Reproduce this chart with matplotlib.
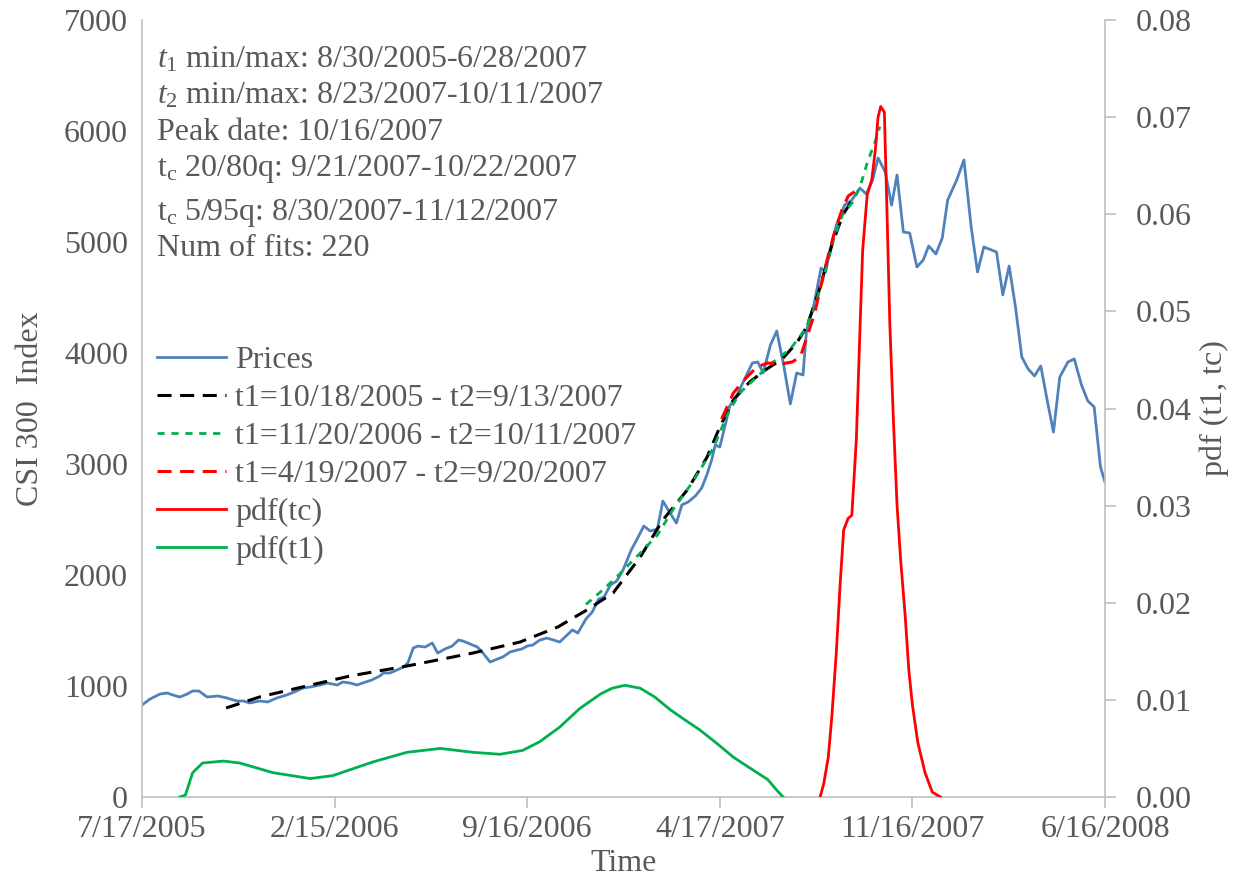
import matplotlib
matplotlib.use("Agg")
import matplotlib.pyplot as plt
import matplotlib.dates as mdates
import pandas as pd
from matplotlib.ticker import FuncFormatter, FixedLocator

plt.rcParams['font.family'] = ['Liberation Serif', 'DejaVu Serif']
plt.rcParams['mathtext.fontset'] = 'custom'
plt.rcParams['mathtext.rm'] = 'Liberation Serif'
plt.rcParams['mathtext.it'] = 'Liberation Serif:italic'

# CSI 300 weekly prices
price_dates = [
    "2005-07-17", "2005-07-26", "2005-08-06", "2005-08-14", "2005-08-20", "2005-08-28",
    "2005-09-05", "2005-09-11", "2005-09-18", "2005-09-27", "2005-10-09", "2005-10-19",
    "2005-10-30", "2005-11-06", "2005-11-13", "2005-11-24", "2005-12-03", "2005-12-13",
    "2005-12-24", "2006-01-04", "2006-01-11", "2006-01-19", "2006-01-30", "2006-02-07",
    "2006-02-18", "2006-02-24", "2006-03-04", "2006-03-12", "2006-03-18", "2006-03-28",
    "2006-04-06", "2006-04-10", "2006-04-17", "2006-04-25", "2006-05-02", "2006-05-07",
    "2006-05-13", "2006-05-18", "2006-05-26", "2006-06-03", "2006-06-09", "2006-06-17",
    "2006-06-25", "2006-07-02", "2006-07-07", "2006-07-15", "2006-07-23", "2006-07-29",
    "2006-08-06", "2006-08-14", "2006-08-20", "2006-08-28", "2006-09-05", "2006-09-10",
    "2006-09-16", "2006-09-22", "2006-09-30", "2006-10-08", "2006-10-22", "2006-11-05",
    "2006-11-11", "2006-11-20", "2006-11-27", "2006-12-04", "2006-12-10", "2006-12-17",
    "2006-12-24", "2006-12-31", "2007-01-09", "2007-01-15", "2007-01-23", "2007-01-30",
    "2007-02-07", "2007-02-13", "2007-02-21", "2007-02-28", "2007-03-06", "2007-03-13",
    "2007-03-21", "2007-03-28", "2007-04-03", "2007-04-08", "2007-04-12", "2007-04-17",
    "2007-04-23", "2007-04-28", "2007-05-06", "2007-05-15", "2007-05-23", "2007-05-29",
    "2007-06-04", "2007-06-12", "2007-06-19", "2007-06-27", "2007-07-04", "2007-07-11",
    "2007-07-18", "2007-07-22", "2007-07-30", "2007-08-07", "2007-08-12", "2007-08-17",
    "2007-08-24", "2007-09-02", "2007-09-10", "2007-09-19", "2007-09-26", "2007-10-03",
    "2007-10-09", "2007-10-17", "2007-10-24", "2007-10-30", "2007-11-06", "2007-11-13",
    "2007-11-21", "2007-11-28", "2007-12-04", "2007-12-12", "2007-12-19", "2007-12-25",
    "2008-01-04", "2008-01-12", "2008-01-20", "2008-01-27", "2008-02-03", "2008-02-17",
    "2008-02-24", "2008-03-02", "2008-03-09", "2008-03-16", "2008-03-23", "2008-03-30",
    "2008-04-06", "2008-04-13", "2008-04-20", "2008-04-27", "2008-05-06", "2008-05-13",
    "2008-05-21", "2008-05-28", "2008-06-04", "2008-06-11", "2008-06-16",
]
price_values = [
    829, 883, 928, 937, 919, 901,
    928, 955, 955, 901, 910, 892,
    865, 865, 847, 865, 856, 892,
    919, 955, 982, 991, 1009, 1027,
    1009, 1036, 1027, 1009, 1027, 1054,
    1090, 1117, 1117, 1144, 1171, 1207,
    1342, 1360, 1351, 1387, 1297, 1333,
    1360, 1414, 1405, 1378, 1351, 1297,
    1216, 1243, 1261, 1306, 1324, 1333,
    1360, 1369, 1414, 1432, 1396, 1505,
    1477, 1604, 1667, 1784, 1802, 1910,
    1946, 2045, 2225, 2315, 2441, 2396,
    2414, 2667, 2559, 2468, 2631, 2658,
    2712, 2784, 2910, 3036, 3171, 3153,
    3351, 3523, 3622, 3775, 3910, 3919,
    3820, 4072, 4198, 3874, 3541, 3820,
    3802, 4207, 4432, 4766, 4730, 4928,
    5153, 5333, 5378, 5486, 5432, 5559,
    5757, 5631, 5333, 5604, 5090, 5081,
    4775, 4838, 4964, 4892, 5036, 5378,
    5559, 5739, 5135, 4730, 4955, 4910,
    4523, 4784, 4414, 3964, 3856, 3793,
    3883, 3577, 3288, 3784, 3919, 3946,
    3712, 3568, 3514, 2973, 2838,
]

# fit 1: t1=10/18/2005 - t2=9/13/2007
fit1_dates = [
    "2005-10-18", "2005-11-24", "2006-01-15", "2006-03-04", "2006-05-06", "2006-07-18",
    "2006-09-08", "2006-10-20", "2006-11-21", "2006-12-20", "2007-01-19", "2007-02-13",
    "2007-03-12", "2007-04-03", "2007-04-17", "2007-05-02", "2007-05-20", "2007-06-08",
    "2007-06-25", "2007-07-11", "2007-07-22", "2007-08-04", "2007-08-19", "2007-08-31",
    "2007-09-13",
]
fit1_values = [
    802, 901, 1000, 1090, 1180, 1297,
    1396, 1532, 1685, 1838, 2162, 2495,
    2766, 3063, 3333, 3577, 3739, 3856,
    3946, 4090, 4234, 4541, 4973, 5243,
    5410,
]

# fit 2: t1=11/20/2006 - t2=10/11/2007
fit2_dates = [
    "2006-11-20", "2006-12-06", "2006-12-24", "2007-01-19", "2007-02-07", "2007-02-24",
    "2007-03-18", "2007-04-10", "2007-04-25", "2007-05-09", "2007-05-28", "2007-06-15",
    "2007-07-04", "2007-07-20", "2007-07-31", "2007-08-11", "2007-08-22", "2007-08-31",
    "2007-09-11", "2007-09-19", "2007-09-27", "2007-10-08", "2007-10-11",
]
fit2_values = [
    1735, 1847, 1982, 2198, 2360, 2586,
    2838, 3144, 3441, 3640, 3784, 3919,
    4036, 4207, 4414, 4721, 5054, 5252,
    5360, 5495, 5712, 5955, 6040,
]

# fit 3: t1=4/19/2007 - t2=9/20/2007
fit3_dates = [
    "2007-04-19", "2007-05-02", "2007-05-15", "2007-05-28", "2007-06-09", "2007-06-23",
    "2007-07-06", "2007-07-15", "2007-07-22", "2007-07-31", "2007-08-08", "2007-08-15",
    "2007-08-22", "2007-08-30", "2007-09-06", "2007-09-14", "2007-09-20",
]
fit3_values = [
    3405, 3640, 3766, 3874, 3910, 3901,
    3919, 3964, 4135, 4360, 4649, 4883,
    5090, 5288, 5414, 5459, 5495,
]

# pdf of tc (right axis)
tc_dates = [
    "2007-08-06", "2007-08-10", "2007-08-15", "2007-08-19", "2007-08-24", "2007-08-28",
    "2007-09-01", "2007-09-06", "2007-09-10", "2007-09-15", "2007-09-19", "2007-09-22",
    "2007-09-27", "2007-10-02", "2007-10-06", "2007-10-09", "2007-10-12", "2007-10-16",
    "2007-10-19", "2007-10-22", "2007-10-26", "2007-10-30", "2007-11-03", "2007-11-08",
    "2007-11-12", "2007-11-16", "2007-11-22", "2007-11-30", "2007-12-08", "2007-12-17",
]
tc_pdf = [
    0.0, 0.0014, 0.0041, 0.0084, 0.0151, 0.0218,
    0.0275, 0.0287, 0.0290, 0.0368, 0.0481, 0.0563,
    0.0620, 0.0635, 0.0666, 0.0700, 0.0711, 0.0705,
    0.0599, 0.0488, 0.0388, 0.0301, 0.0244, 0.0187,
    0.0131, 0.0095, 0.0056, 0.0025, 0.0005, 0.0,
]

# pdf of t1 (right axis)
t1_dates = [
    "2005-08-28", "2005-09-03", "2005-09-11", "2005-09-22", "2005-10-15", "2005-11-02",
    "2005-12-09", "2006-01-19", "2006-02-13", "2006-03-29", "2006-05-06", "2006-06-12",
    "2006-07-18", "2006-08-17", "2006-09-11", "2006-09-30", "2006-10-22", "2006-11-13",
    "2006-12-06", "2006-12-19", "2007-01-02", "2007-01-19", "2007-02-04", "2007-02-21",
    "2007-03-10", "2007-03-26", "2007-04-14", "2007-05-02", "2007-05-20", "2007-06-09",
    "2007-06-19", "2007-06-26",
]
t1_pdf = [
    0.0, 0.0002, 0.0025, 0.0035, 0.0037, 0.0035,
    0.0025, 0.0019, 0.0022, 0.0036, 0.0046, 0.0050,
    0.0046, 0.0044, 0.0048, 0.0057, 0.0072, 0.0091,
    0.0106, 0.0112, 0.0115, 0.0112, 0.0103, 0.0090,
    0.0079, 0.0069, 0.0055, 0.0041, 0.0030, 0.0018,
    0.0007, 0.0,
]

tick_dates = ["2005-07-17", "2006-02-15", "2006-09-16", "2007-04-17", "2007-11-16", "2008-06-16"]

info_lines = [
    r"$t_1$ min/max: 8/30/2005-6/28/2007",
    r"$t_2$ min/max: 8/23/2007-10/11/2007",
    "Peak date: 10/16/2007",
    r"$\mathrm{t_c}$ 20/80q: 9/21/2007-10/22/2007",
    r"$\mathrm{t_c}$ 5/95q: 8/30/2007-11/12/2007",
    "Num of fits: 220",
]

txt = '#595959'
axis_col = '#BFBFBF'
fs = 23

fig = plt.figure(figsize=(12.36, 8.76), dpi=100)
ax = fig.add_axes([142 / 1236, 1 - 797 / 876, 963 / 1236, 777 / 876])
ax2 = ax.twinx()

l_price, = ax.plot(pd.to_datetime(price_dates), price_values, color='#4F81BD', lw=2.0,
                   label='Prices')
l_f1, = ax.plot(pd.to_datetime(fit1_dates), fit1_values, color='black', lw=2.2,
                dashes=(4.6, 2.8), label='t1=10/18/2005 - t2=9/13/2007')
l_f2, = ax.plot(pd.to_datetime(fit2_dates), fit2_values, color='#00B050', lw=2.0,
                dashes=(2.6, 2.4), label='t1=11/20/2006 - t2=10/11/2007')
l_f3, = ax.plot(pd.to_datetime(fit3_dates), fit3_values, color='#FF0000', lw=2.2,
                dashes=(4.6, 2.8), label='t1=4/19/2007 - t2=9/20/2007')
l_tc, = ax2.plot(pd.to_datetime(tc_dates), tc_pdf, color='#FF0000', lw=2.0, label='pdf(tc)')
l_t1, = ax2.plot(pd.to_datetime(t1_dates), t1_pdf, color='#00B050', lw=2.0, label='pdf(t1)')

ax.set_xlim(pd.Timestamp(tick_dates[0]), pd.Timestamp(tick_dates[-1]))
ax.set_ylim(0, 7000)
ax.set_yticks(range(0, 7001, 1000))
ax2.set_ylim(0, 0.08)
ax2.set_yticks([i / 100 for i in range(9)])
ax2.yaxis.set_major_formatter(FuncFormatter(lambda v, p: f"{v:.2f}"))

ax.xaxis.set_major_locator(FixedLocator(mdates.date2num(pd.to_datetime(tick_dates))))
ax.xaxis.set_major_formatter(FuncFormatter(
    lambda v, p: (lambda d: f"{d.month}/{d.day}/{d.year}")(mdates.num2date(v))))

for a in (ax, ax2):
    for s in a.spines.values():
        s.set_color(axis_col)
        s.set_linewidth(1.2)
    a.spines['top'].set_visible(False)
ax.spines['right'].set_visible(False)
ax2.spines['left'].set_visible(False)
ax2.spines['bottom'].set_visible(False)

ax.tick_params(axis='y', length=0, pad=10, labelsize=fs, labelcolor=txt)
ax.tick_params(axis='x', direction='out', length=8, width=1.2, color=axis_col,
               pad=5, labelsize=fs, labelcolor=txt)
ax2.tick_params(axis='y', direction='out', length=8, width=1.2, color=axis_col,
                pad=14, labelsize=fs, labelcolor=txt)

ax.set_ylabel('CSI 300  Index', fontsize=fs, color=txt, labelpad=14)
ax2.set_ylabel('pdf (t1, tc)', fontsize=fs, color=txt, labelpad=6)
ax.set_xlabel('Time', fontsize=fs, color=txt, va='top')
ax.xaxis.set_label_coords(0.5, -0.067)

baselines = [67, 103, 140, 176, 220, 256]
for line, b in zip(info_lines, baselines):
    ax.text(15 / 963, (797 - b) / 777, line, transform=ax.transAxes, fontsize=fs,
            color=txt, va='baseline', ha='left')

handles = [l_price, l_f1, l_f2, l_f3, l_tc, l_t1]
ax2.legend(handles=handles, labels=[h.get_label() for h in handles],
           loc='upper left', bbox_to_anchor=(15 / 963, 0.581), frameon=False,
           fontsize=fs, labelcolor=txt, borderpad=0, borderaxespad=0,
           handlelength=2.15, handletextpad=0.3, labelspacing=0.27)

fig.savefig('out.png', dpi=100)
